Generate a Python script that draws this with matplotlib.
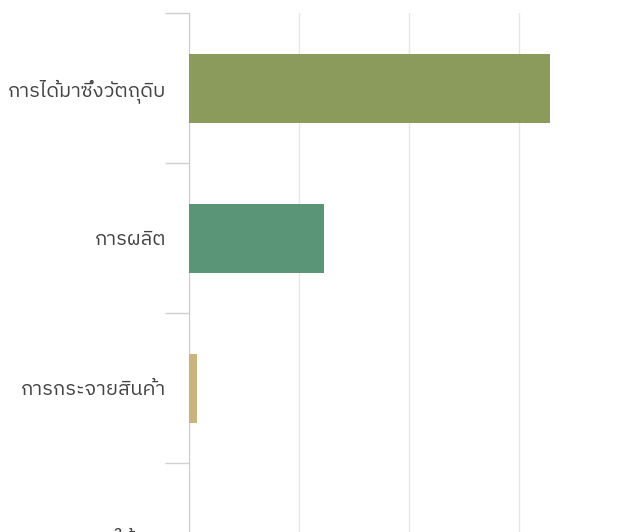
import matplotlib
matplotlib.use("Agg")
import matplotlib.pyplot as plt
from matplotlib import font_manager

# look for something that can draw Thai
thai = [f.name for f in font_manager.fontManager.ttflist if 'thai' in f.name.lower() or 'loma' in f.name.lower() or 'garuda' in f.name.lower()]
fams = sorted(set(thai)) + ['Noto Sans', 'DejaVu Sans']
plt.rcParams['font.family'] = fams

stages = ['การได้มาซึ่งวัตถุดิบ', 'การผลิต', 'การกระจายสินค้า', 'การใช้งาน']
values = [65.8, 24.7, 1.6, 0.0]
colors = ['#8a9b5b', '#5a9578', '#cbb27f', '#7d8fa8']
xticks = [0, 20, 40, 60, 80]

W, H = 628, 532
fig = plt.figure(figsize=(W / 100, H / 100), dpi=100)
# axes runs past the bottom of the picture (4th row is cut off)
left, top = 188.5, 13
ax = fig.add_axes([left / W, 1 - (13 + 600) / H, 440 / W, 600 / H])

ypos = list(range(len(stages)))
ax.barh(ypos, values, height=0.46, color=colors, zorder=3)
ax.set_ylim(len(stages) - 0.5, -0.5)
ax.set_xlim(0, 80)
ax.set_xticks(xticks)
ax.set_xticklabels([])
ax.grid(axis='x', color='#e6e6e6', linewidth=1, zorder=0)

# category separators as ticks
ax.set_yticks([i - 0.5 for i in range(len(stages) + 1)])
ax.set_yticklabels([])
ax.set_yticks(ypos, minor=True)
ax.set_yticklabels(stages, minor=True, fontsize=14.5, color='#444444')
ax.tick_params(axis='y', which='major', length=17, color='#d0d0d0', width=1)
ax.tick_params(axis='y', which='minor', length=0, pad=16)
ax.tick_params(axis='x', length=0)

for s in ['top', 'right', 'bottom']:
    ax.spines[s].set_visible(False)
ax.spines['left'].set_color('#cccccc')

fig.savefig('out.png', dpi=100)
